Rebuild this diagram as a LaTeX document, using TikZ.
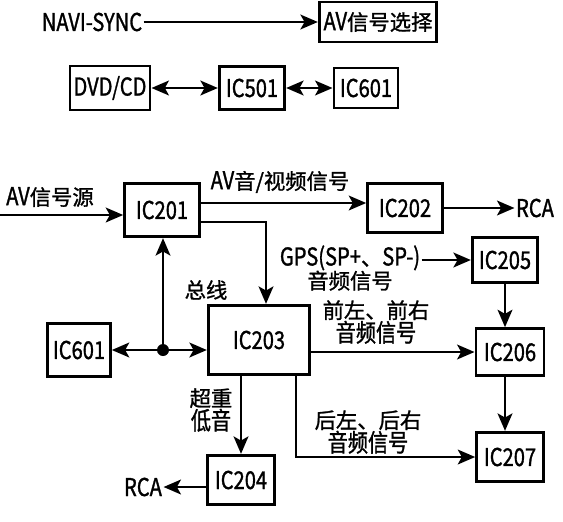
\documentclass[tikz,border=0pt]{standalone}
\usepackage{fontspec}
\setmainfont{Noto Sans CJK SC}[FakeStretch=0.82,Scale=1.15,FakeBold=1.2]
\newfontfamily\cjk{Noto Sans CJK SC}[FakeBold=1.2]
\usetikzlibrary{arrows.meta}

\begin{document}
\begin{tikzpicture}[x=0.75pt,y=-0.75pt,
        >={Stealth[length=13pt,width=11pt,inset=3pt]},
        every node/.style={font=\fontsize{16}{17.5}\selectfont},
        wire/.style={line width=2.2pt},
        chip/.style={draw,line width=2.2pt,inner sep=0pt},
        txt/.style={inner sep=1pt,align=center},
        dot/.style={circle,fill,inner sep=0pt,minimum size=9pt}]
            \useasboundingbox (0,0) rectangle (563,521);

            % top part
            \node [txt] (navi) at (92,22) {NAVI-SYNC};
            \node [chip,minimum width=88pt,minimum height=30pt] (sel) at (378,22) {AV{\cjk 信号选择}};
            \draw[wire,->] (navi) -- (sel);

            \node [chip,minimum width=60pt,minimum height=33pt] (dvd) at (110,88) {DVD/CD};
            \node [chip,minimum width=49pt,minimum height=32pt] (ic501) at (252,88) {IC501};
            \node [chip,minimum width=48pt,minimum height=30pt] (icsix) at (366,88) {IC601};
            \draw[wire,<->] (dvd) -- (ic501);
            \draw[wire,<->] (ic501) -- (icsix);

            % signal chain
            \coordinate (src) at (0,215);
            \node [txt] (srclbl) at (50,197) {AV{\cjk 信号源}};
            \node [chip,minimum width=56pt,minimum height=40pt] (ic201) at (162,210) {IC201};
            \draw[wire,->] (src) -- (ic201.west |- src);

            \node [chip,minimum width=56pt,minimum height=37pt] (ic202) at (405,208) {IC202};
            \node [txt] (rcaA) at (535,208) {RCA};
            \coordinate (av) at (0,203);
            \node [txt] (avlbl) at (280,182) {AV{\cjk 音/视频信号}};
            \draw[wire,->] (ic201.east |- av) -- (ic202.west |- av);
            \draw[wire,->] (ic202) -- (rcaA);

            \node [chip,minimum width=49pt,minimum height=34pt] (ic205) at (505,260) {IC205};
            \node [txt] (gps) at (350,268) {GPS(SP+{\cjk 、}SP-)\\{\cjk 音频信号}};
            \draw[wire,->] (gps.east |- ic205.west) -- (ic205.west);

            \node [chip,minimum width=76pt,minimum height=52pt] (ic203) at (259,340) {IC203};
            \coordinate (gpsbend) at (266,222);
            \draw[wire,->] (ic201.east |- gpsbend) -| (ic203.north -| gpsbend);

            % bus
            \node [chip,minimum width=47pt,minimum height=40pt] (icbus) at (79,350) {IC601};
            \node [dot] (bus) at (163,350) {};
            \node [txt] (buslbl) at (206,290) {\cjk 总线};
            \draw[wire,->] (bus) -- (icbus);
            \draw[wire,->] (bus) -- (ic203.west |- bus);
            \draw[wire,->] (bus) -- (ic201.south -| bus);

            % outputs
            \node [chip,minimum width=51pt,minimum height=35pt] (ic206) at (510,352) {IC206};
            \node [chip,minimum width=50pt,minimum height=37pt] (ic207) at (510,457) {IC207};
            \node [txt] (frontlbl) at (376,322) {\cjk 前左、前右\\音频信号};
            \draw[wire,->] (ic203.east |- ic206.west) -- (ic206.west);
            \draw[wire,->] (ic205) -- (ic205 |- ic206.north);
            \draw[wire,->] (ic206.south -| ic205) -- (ic207.north -| ic205);

            \node [chip,minimum width=50pt,minimum height=37pt] (ic204) at (241,480) {IC204};
            \node [txt] (sublbl) at (211,410) {\cjk 超重\\低音};
            \draw[wire,->] (ic203.south -| ic204) -- (ic204);

            \coordinate (rear) at (296,460);
            \node [txt] (rearlbl) at (368,432) {\cjk 后左、后右\\音频信号};
            \draw[wire,->] (ic203.south -| rear) |- (ic207.west);

            \node [txt] (rcaB) at (143,487) {RCA};
            \draw[wire,->] (ic204.west |- rcaB) -- (rcaB);

        \end{tikzpicture}
\end{document}
